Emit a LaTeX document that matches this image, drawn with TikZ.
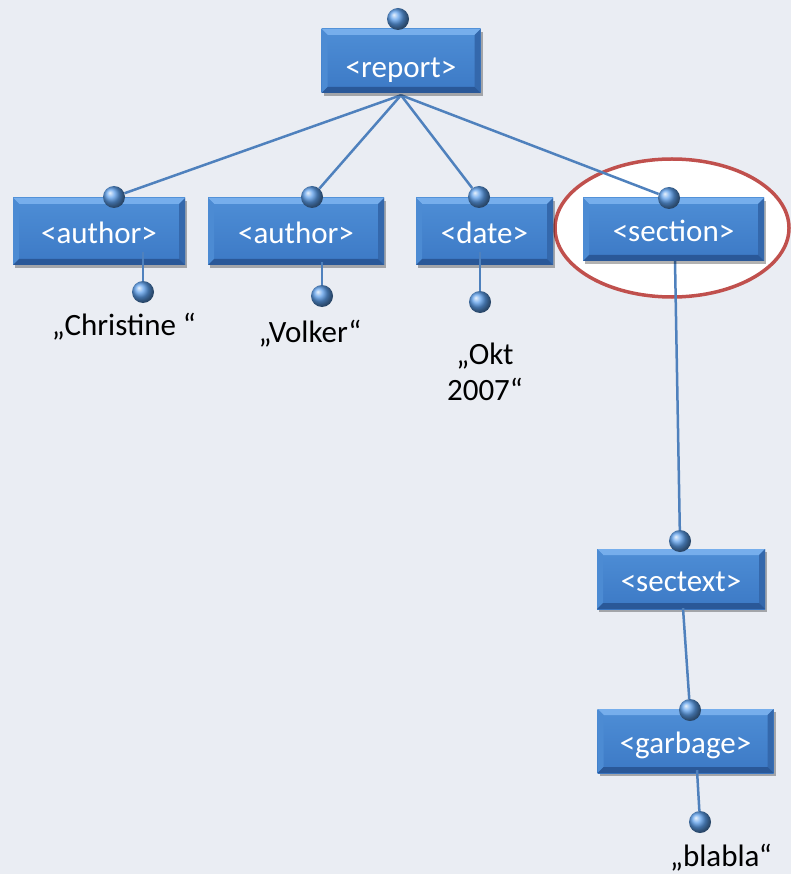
\documentclass[tikz,border=0pt]{standalone}
\usepackage{fontspec}
\setmainfont{Carlito}
\usetikzlibrary{shadows}

\definecolor{bgcol}{RGB}{234,237,243}
\definecolor{linkcol}{RGB}{79,129,189}
\definecolor{ringcol}{RGB}{192,80,77}
\definecolor{facetop}{RGB}{78,142,214}
\definecolor{facebot}{RGB}{60,121,197}
\definecolor{bevtop}{RGB}{118,174,236}
\definecolor{bevleft}{RGB}{76,139,211}
\definecolor{bevright}{RGB}{52,104,172}
\definecolor{bevbot}{RGB}{42,88,152}
\definecolor{ballcol}{RGB}{92,158,234}

\pgfdeclarelayer{back}
\pgfdeclarelayer{links}
\pgfdeclarelayer{front}
\pgfsetlayers{back,links,main,front}

\newcommand{\bv}{6pt}
\newcommand{\ppb}{path picture bounding box}

\tikzset{
  tag/.style={rectangle, inner sep=0pt, text=white,
    font=\fontsize{31}{36}\selectfont, text height=24pt, text depth=0pt,
    top color=facetop, bottom color=facebot,
    drop shadow={shadow xshift=2pt, shadow yshift=-3pt, opacity=0.3, fill=black},
    path picture={
      \fill[bevtop] (\ppb.north west) -- (\ppb.north east)
        -- ([xshift=-\bv,yshift=-\bv]\ppb.north east)
        -- ([xshift=\bv,yshift=-\bv]\ppb.north west) -- cycle;
      \fill[bevleft] (\ppb.north west) -- ([xshift=\bv,yshift=-\bv]\ppb.north west)
        -- ([xshift=\bv,yshift=\bv]\ppb.south west) -- (\ppb.south west) -- cycle;
      \fill[bevright] (\ppb.north east) -- ([xshift=-\bv,yshift=-\bv]\ppb.north east)
        -- ([xshift=-\bv,yshift=\bv]\ppb.south east) -- (\ppb.south east) -- cycle;
      \fill[bevbot] (\ppb.south west) -- ([xshift=\bv,yshift=\bv]\ppb.south west)
        -- ([xshift=-\bv,yshift=\bv]\ppb.south east) -- (\ppb.south east) -- cycle;
    }},
  knob/.style={circle, minimum size=22pt, inner sep=0pt, shading=ball, ball color=ballcol},
  link/.style={draw=linkcol, line width=2.5pt},
  leaf/.style={font=\fontsize{31}{36}\selectfont, text=black, align=center, inner sep=0pt}
}

\begin{document}
\begin{tikzpicture}[x=1pt, y=-1pt]
  \useasboundingbox (0,0) rectangle (791,874);
  \begin{pgfonlayer}{back}
    \fill[bgcol] (0,0) rectangle (791,874);
    \draw[ringcol, line width=3.5pt, fill=white] (672,228) ellipse [x radius=117, y radius=69];
  \end{pgfonlayer}

  % element boxes
  \node[tag, minimum width=159pt, minimum height=64pt, text height=33pt] (rep) at (401,61) {<report>};
  \node[tag, minimum width=172pt, minimum height=67pt] (au1) at (99,231.5) {<author>};
  \node[tag, minimum width=176pt, minimum height=67pt] (au2) at (296,231.5) {<author>};
  \node[tag, minimum width=137pt, minimum height=67pt] (dat) at (484.5,231.5) {<date>};
  \node[tag, minimum width=181pt, minimum height=63pt] (sec) at (673.5,229.5) {<section>};
  \node[tag, minimum width=168pt, minimum height=60pt] (stx) at (681,579) {<sectext>};
  \node[tag, minimum width=176pt, minimum height=64pt] (gar) at (685.5,741) {<garbage>};

  % connection knobs
  \begin{pgfonlayer}{front}
    \node[knob] (k0) at (398,19) {};
    \node[knob] (ka1) at (114,197) {};
    \node[knob] (ka2) at (312,197) {};
    \node[knob] (kd) at (479,197) {};
    \node[knob] (ks) at (669,198) {};
    \node[knob] (ka1b) at (143,292) {};
    \node[knob] (ka2b) at (322,296) {};
    \node[knob] (kdb) at (480,302) {};
    \node[knob] (kx) at (680,541) {};
    \node[knob] (kg) at (690,710) {};
    \node[knob] (kgb) at (700,822) {};
  \end{pgfonlayer}

  % tree edges
  \begin{pgfonlayer}{links}
    \draw[link] ([yshift=-2pt]rep.south) -- (ka1);
    \draw[link] ([yshift=-2pt]rep.south) -- (ka2);
    \draw[link] ([yshift=-2pt]rep.south) -- (kd);
    \draw[link] ([yshift=-2pt]rep.south) -- (ks);
    \draw[link] ([xshift=1.5pt]sec.south) -- (kx);
  \end{pgfonlayer}
  \draw[link] ([xshift=2pt,yshift=1pt]stx.south) -- (kg);
  \draw[link] (ka1b) -- ([yshift=13pt]ka1b |- au1.south);
  \draw[link] (ka2b) -- ([yshift=3pt]ka2b |- au2.south);
  \draw[link] (kdb) -- ([yshift=13pt]kdb |- dat.south);
  \draw[link] (kgb) -- ([xshift=-3pt,yshift=3pt]kgb |- gar.south);

  % text values
  \node[leaf] (t1) at (124,327) {„Christine “};
  \node[leaf] (t2) at (310,334) {„Volker“};
  \node[leaf] (t3) at (485,372) {„Okt\\2007“};
  \node[leaf] (t4) at (721,858) {„blabla“};
\end{tikzpicture}
\end{document}
